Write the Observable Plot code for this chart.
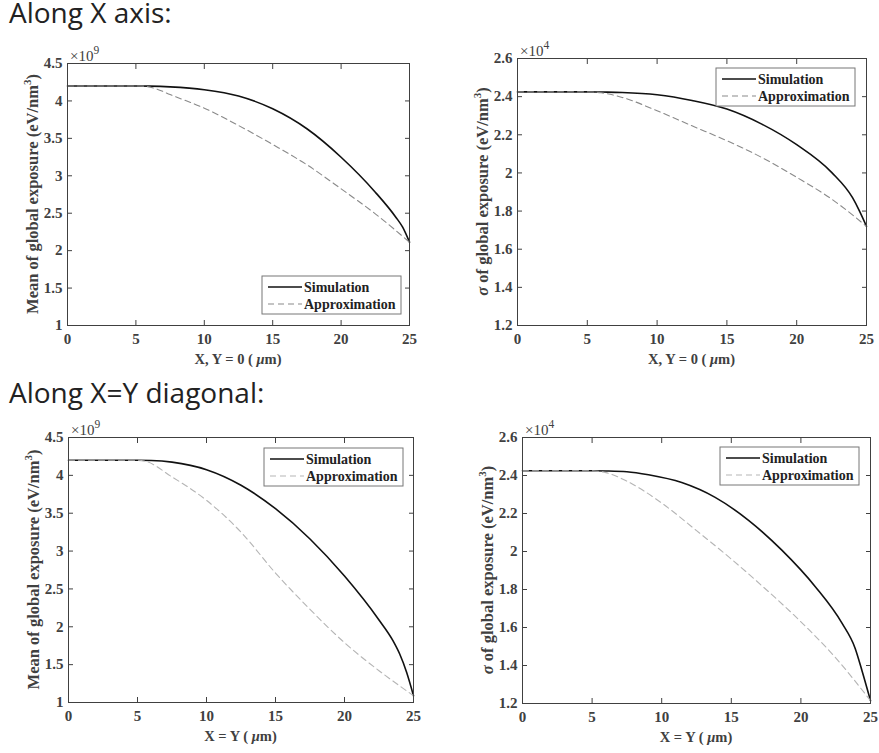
<!DOCTYPE html>
<html><head><meta charset="utf-8">
<script src="https://cdn.jsdelivr.net/npm/d3@7"></script>
<script src="https://cdn.jsdelivr.net/npm/@observablehq/plot@0.6"></script>
<style>
body{margin:0;background:#fff;}
#root{position:relative;width:879px;height:753px;overflow:hidden;background:#fff;}
.heading{position:absolute;font-family:"Open Sans",Lato,sans-serif;font-size:28px;line-height:30px;color:#222;white-space:nowrap;}
.panel{position:absolute;}
</style></head><body><div id="root">
<div class="heading" style="left:9px;top:-3px">Along X axis:</div>
<div class="heading" style="left:9px;top:377px">Along X=Y diagonal:</div>
</div>
<script>
// ---- data ----
const xTicks = [0, 5, 10, 15, 20, 25];
const meanTicks = [1, 1.5, 2, 2.5, 3, 3.5, 4, 4.5];
const meanTickLabels = ["1", "1.5", "2", "2.5", "3", "3.5", "4", "4.5"];
const sigmaTicks = [1.2, 1.4, 1.6, 1.8, 2, 2.2, 2.4, 2.6];
const sigmaTickLabels = ["1.2", "1.4", "1.6", "1.8", "2", "2.2", "2.4", "2.6"];
const seriesNames = ["Simulation", "Approximation"];

// Along X axis, mean (x10^9)
const meanX_simX = [0, 2.5, 5, 6, 7.5, 10, 12.5, 15, 17.5, 20, 22.5, 24, 24.5, 25];
const meanX_simY = [4.2, 4.2, 4.2, 4.198, 4.188, 4.149, 4.065, 3.895, 3.628, 3.248, 2.781, 2.447, 2.313, 2.113];
const meanX_apxX = [0, 2.5, 5, 5.5, 6.5, 7.5, 10, 12.5, 15, 17.5, 20, 22.5, 25];
const meanX_apxY = [4.2, 4.2, 4.2, 4.198, 4.16, 4.085, 3.903, 3.672, 3.418, 3.147, 2.826, 2.492, 2.113];

// Along X axis, sigma (x10^4)
const sigX_simX = [0, 2.5, 5, 6, 7.5, 10, 12.5, 15, 17.5, 20, 22.5, 24, 24.5, 25];
const sigX_simY = [2.425, 2.425, 2.425, 2.424, 2.422, 2.41, 2.38, 2.335, 2.256, 2.148, 2.003, 1.87, 1.80, 1.72];
const sigX_apxX = [0, 2.5, 5, 6, 7.5, 10, 12.5, 15, 17.5, 20, 22.5, 25];
const sigX_apxY = [2.425, 2.425, 2.425, 2.42, 2.396, 2.326, 2.247, 2.169, 2.081, 1.977, 1.863, 1.72];

// Along X=Y diagonal, mean (x10^9)
const meanD_simX = [0, 2.5, 5, 6, 7.5, 10, 12.5, 15, 17.5, 20, 22.5, 23.5, 24, 24.5, 25];
const meanD_simY = [4.2, 4.2, 4.2, 4.197, 4.175, 4.075, 3.87, 3.56, 3.16, 2.67, 2.09, 1.82, 1.64, 1.40, 1.09];
const meanD_apxX = [0, 2.5, 5, 5.5, 7.5, 10, 12.5, 15, 17.5, 20, 22.5, 25];
const meanD_apxY = [4.2, 4.2, 4.2, 4.19, 3.98, 3.67, 3.25, 2.71, 2.23, 1.79, 1.42, 1.09];

// Along X=Y diagonal, sigma (x10^4)
const sigD_simX = [0, 2.5, 5, 6, 7.5, 9.05, 11.44, 13.84, 16.24, 18.63, 21.02, 22.94, 23.9, 24.4, 25];
const sigD_simY = [2.425, 2.425, 2.425, 2.424, 2.42, 2.404, 2.363, 2.285, 2.164, 2.007, 1.816, 1.624, 1.49, 1.37, 1.215];
const sigD_apxX = [0, 2.5, 5, 6, 7.5, 10, 12.5, 15, 17.5, 20, 22.5, 25];
const sigD_apxY = [2.425, 2.425, 2.425, 2.415, 2.37, 2.255, 2.11, 1.96, 1.80, 1.63, 1.44, 1.215];

function panel(cfg) {
  const {left, top, width, height, ml, mr, mt, mb, yDomain, yTicks, yTickLabels,
    exponent, yKind, xKind, legend, approxColor, simX, simY, apxX, apxY} = cfg;
  const sim = simX.map((x, i) => ({x, y: simY[i]}));
  const apx = apxX.map((x, i) => ({x, y: apxY[i]}));
  const fw = width - ml - mr, fh = height - mt - mb;
  const tickFmt = d => yTickLabels[yTicks.indexOf(d)];
  const axisColor = "#404040";
  const serif = "'Liberation Serif', 'Times New Roman', serif";
  const tickText = {fontSize: 15, fontWeight: "bold", fill: axisColor, fontFamily: serif, label: null};
  const tickLine = {tickFormat: () => "", label: null, stroke: axisColor};
  const plot = Plot.plot({
    width, height, marginLeft: ml, marginRight: mr, marginTop: mt, marginBottom: mb,
    style: {fontFamily: serif, fontWeight: "bold", fontSize: "15px", color: axisColor,
      background: "transparent", overflow: "visible"},
    x: {domain: [0, 25]},
    y: {domain: yDomain},
    marks: [
      Plot.line(sim, {x: "x", y: "y", stroke: "#111", strokeWidth: 1.6, curve: "monotone-x"}),
      Plot.line(apx, {x: "x", y: "y", stroke: approxColor, strokeWidth: 1.1, strokeDasharray: "6,4", curve: "monotone-x"}),
      Plot.frame({stroke: axisColor, strokeWidth: 1}),
      Plot.axisX(xTicks, {anchor: "bottom", tickSize: 0, tickPadding: 8, ...tickText}),
      Plot.axisX(xTicks, {anchor: "bottom", tickSize: -5, ...tickLine}),
      Plot.axisX(xTicks, {anchor: "top", tickSize: -5, ...tickLine}),
      Plot.axisY(yTicks, {anchor: "left", tickSize: 0, tickPadding: 5, tickFormat: tickFmt, ...tickText}),
      Plot.axisY(yTicks, {anchor: "left", tickSize: -5, ...tickLine}),
      Plot.axisY(yTicks, {anchor: "right", tickSize: -5, ...tickLine})
    ]
  });
  const svg = d3.select(plot);
  svg.selectAll("g[aria-label*='tick label']").attr("font-size", 15)
    .selectAll("text").style("font-size", "15px");

  // exponent
  const ex = svg.append("text").attr("x", ml + 3).attr("y", mt - 2)
    .attr("text-anchor", "start")
    .attr("font-family", serif).style("font-size", "15px")
    .attr("font-weight", "normal").attr("fill", axisColor);
  ex.append("tspan").text("×10");
  ex.append("tspan").attr("dy", -7).style("font-size", "11.5px").text(exponent);

  // y label
  const yl = svg.append("text")
    .attr("transform", `translate(${ml - 29},${mt + fh / 2}) rotate(-90)`)
    .attr("text-anchor", "middle").attr("font-family", serif)
    .attr("font-weight", "bold").style("font-size", "16.5px").attr("fill", axisColor);
  if (yKind === "mean") {
    yl.append("tspan").text("Mean of global exposure (eV/nm");
  } else {
    yl.append("tspan").attr("font-style", "italic").text("σ");
    yl.append("tspan").text(" of global exposure (eV/nm");
  }
  yl.append("tspan").attr("dy", -7).style("font-size", "11px").text("3");
  yl.append("tspan").attr("dy", 7).text(")");

  // x label
  const xl = svg.append("text").attr("x", ml + fw / 2).attr("y", mt + fh + 39)
    .attr("text-anchor", "middle").attr("font-family", serif)
    .attr("font-weight", "bold").style("font-size", "14.5px").attr("fill", axisColor);
  xl.append("tspan").text(xKind === "axis" ? "X, Y = 0 ( " : "X = Y ( ");
  xl.append("tspan").attr("font-style", "italic").text("μ");
  xl.append("tspan").text("m)");

  // legend
  const lw = 139, lh = 38;
  const lx = ml + fw - legend.right - lw;
  const ly = legend.pos === "bottom" ? mt + fh - legend.offset - lh : mt + legend.offset;
  const g = svg.append("g");
  g.append("rect").attr("x", lx).attr("y", ly).attr("width", lw).attr("height", lh)
    .attr("fill", "#fff").attr("stroke", "#777").attr("stroke-width", 1);
  const rows = [ly + 11, ly + 28];
  g.append("line").attr("x1", lx + 6).attr("x2", lx + 40).attr("y1", rows[0]).attr("y2", rows[0])
    .attr("stroke", "#111").attr("stroke-width", 1.6);
  g.append("line").attr("x1", lx + 6).attr("x2", lx + 40).attr("y1", rows[1]).attr("y2", rows[1])
    .attr("stroke", approxColor).attr("stroke-width", 1.1).attr("stroke-dasharray", "6,4");
  seriesNames.forEach((n, i) => {
    g.append("text").attr("x", lx + 42).attr("y", rows[i] + 4.5)
      .attr("text-anchor", "start")
      .attr("font-family", serif).attr("font-weight", "bold")
      .style("font-size", "14px").attr("fill", "#222").text(n);
  });

  const div = document.createElement("div");
  div.className = "panel";
  div.style.left = left + "px";
  div.style.top = top + "px";
  div.appendChild(plot);
  document.getElementById("root").appendChild(div);
}

panel({left: 0, top: 40, width: 440, height: 340, ml: 67, mr: 31, mt: 23, mb: 55,
  yDomain: [1, 4.5], yTicks: meanTicks, yTickLabels: meanTickLabels, exponent: "9",
  yKind: "mean", xKind: "axis", legend: {pos: "bottom", right: 8, offset: 11},
  approxColor: "#8a8a8a", simX: meanX_simX, simY: meanX_simY, apxX: meanX_apxX, apxY: meanX_apxY});

panel({left: 440, top: 40, width: 439, height: 340, ml: 77, mr: 13, mt: 18, mb: 55,
  yDomain: [1.2, 2.6], yTicks: sigmaTicks, yTickLabels: sigmaTickLabels, exponent: "4",
  yKind: "sigma", xKind: "axis", legend: {pos: "top", right: 11, offset: 10},
  approxColor: "#8a8a8a", simX: sigX_simX, simY: sigX_simY, apxX: sigX_apxX, apxY: sigX_apxY});

panel({left: 0, top: 415, width: 440, height: 338, ml: 68, mr: 27, mt: 22, mb: 51,
  yDomain: [1, 4.5], yTicks: meanTicks, yTickLabels: meanTickLabels, exponent: "9",
  yKind: "mean", xKind: "diag", legend: {pos: "top", right: 10, offset: 11},
  approxColor: "#b5b5b5", simX: meanD_simX, simY: meanD_simY, apxX: meanD_apxX, apxY: meanD_apxY});

panel({left: 440, top: 415, width: 439, height: 338, ml: 82, mr: 9, mt: 22, mb: 50,
  yDomain: [1.2, 2.6], yTicks: sigmaTicks, yTickLabels: sigmaTickLabels, exponent: "4",
  yKind: "sigma", xKind: "diag", legend: {pos: "top", right: 11, offset: 10},
  approxColor: "#b5b5b5", simX: sigD_simX, simY: sigD_simY, apxX: sigD_apxX, apxY: sigD_apxY});
</script>
</body></html>
